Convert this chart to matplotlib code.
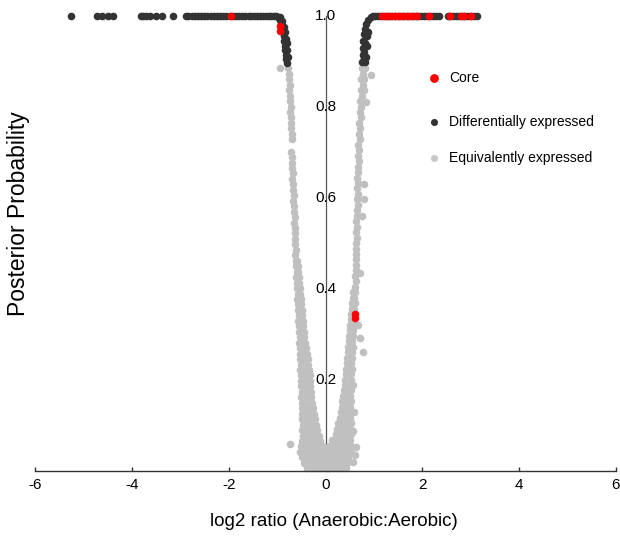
import matplotlib
matplotlib.use("Agg")
import matplotlib.pyplot as plt
import numpy as np

plt.rcParams['font.family'] = ['Liberation Sans', 'DejaVu Sans']

# equivalently expressed genes, left arm of the V (x, posterior)
equiv_left = [
    (-0.77, 0.885), (-0.93, 0.885), (-0.76, 0.873), (-0.75, 0.861), (-0.74, 0.849),
    (-0.75, 0.837), (-0.73, 0.825), (-0.74, 0.813), (-0.72, 0.801), (-0.73, 0.789),
    (-0.71, 0.777), (-0.72, 0.765), (-0.71, 0.753), (-0.70, 0.741), (-0.69, 0.729),
    (-0.72, 0.702), (-0.70, 0.690), (-0.69, 0.678), (-0.70, 0.666), (-0.68, 0.654),
    (-0.69, 0.642), (-0.67, 0.630), (-0.68, 0.618), (-0.66, 0.606), (-0.67, 0.594),
    (-0.65, 0.582), (-0.66, 0.570), (-0.64, 0.558), (-0.65, 0.546), (-0.63, 0.534),
    (-0.64, 0.522), (-0.62, 0.510), (-0.63, 0.498), (-0.61, 0.486), (-0.62, 0.474),
    (-0.60, 0.462), (-0.58, 0.462), (-0.61, 0.450), (-0.57, 0.450), (-0.59, 0.438),
    (-0.56, 0.438), (-0.60, 0.426), (-0.55, 0.426), (-0.58, 0.414), (-0.54, 0.414),
    (-0.59, 0.402), (-0.53, 0.402), (-0.57, 0.390), (-0.52, 0.390), (-0.58, 0.378),
    (-0.51, 0.378), (-0.56, 0.366), (-0.50, 0.366), (-0.57, 0.354), (-0.49, 0.354),
    (-0.55, 0.342), (-0.48, 0.342), (-0.56, 0.330), (-0.47, 0.330), (-0.54, 0.318),
    (-0.46, 0.318), (-0.55, 0.306), (-0.45, 0.306), (-0.53, 0.294), (-0.44, 0.294),
    (-0.54, 0.282), (-0.45, 0.282), (-0.42, 0.282), (-0.52, 0.270), (-0.44, 0.270),
    (-0.40, 0.270), (-0.53, 0.258), (-0.45, 0.258), (-0.39, 0.258), (-0.52, 0.246),
    (-0.44, 0.246), (-0.37, 0.246), (-0.51, 0.234), (-0.43, 0.234), (-0.36, 0.234),
    (-0.52, 0.222), (-0.42, 0.222), (-0.34, 0.222), (-0.50, 0.210), (-0.41, 0.210),
    (-0.33, 0.210), (-0.51, 0.198), (-0.42, 0.198), (-0.32, 0.198), (-0.50, 0.186),
    (-0.41, 0.186), (-0.31, 0.186), (-0.49, 0.174), (-0.40, 0.174), (-0.30, 0.174),
    (-0.50, 0.162), (-0.41, 0.162), (-0.29, 0.162), (-0.49, 0.150), (-0.40, 0.150),
    (-0.28, 0.150), (-0.48, 0.138), (-0.39, 0.138), (-0.30, 0.138), (-0.26, 0.138),
    (-0.49, 0.126), (-0.40, 0.126), (-0.31, 0.126), (-0.24, 0.126), (-0.48, 0.114),
    (-0.39, 0.114), (-0.30, 0.114), (-0.22, 0.114), (-0.47, 0.102), (-0.38, 0.102),
    (-0.29, 0.102), (-0.20, 0.102), (-0.48, 0.090), (-0.39, 0.090), (-0.30, 0.090),
    (-0.21, 0.090), (-0.17, 0.090), (-0.47, 0.078), (-0.38, 0.078), (-0.29, 0.078),
    (-0.20, 0.078), (-0.14, 0.078), (-0.48, 0.066), (-0.37, 0.066), (-0.28, 0.066),
    (-0.19, 0.066), (-0.11, 0.066), (-0.74, 0.060),
]

# right arm of the V
equiv_right = [
    (0.76, 0.885), (0.82, 0.885), (0.78, 0.873), (0.93, 0.870), (0.74, 0.861),
    (0.80, 0.861), (0.77, 0.849), (0.73, 0.837), (0.79, 0.837), (0.76, 0.825),
    (0.72, 0.813), (0.83, 0.810), (0.74, 0.801), (0.71, 0.789), (0.73, 0.777),
    (0.70, 0.765), (0.72, 0.753), (0.69, 0.741), (0.71, 0.729), (0.68, 0.717),
    (0.70, 0.705), (0.68, 0.693), (0.69, 0.681), (0.67, 0.669), (0.68, 0.657),
    (0.66, 0.645), (0.68, 0.633), (0.79, 0.630), (0.66, 0.621), (0.67, 0.609),
    (0.65, 0.597), (0.80, 0.597), (0.67, 0.585), (0.65, 0.573), (0.66, 0.561),
    (0.76, 0.561), (0.64, 0.549), (0.66, 0.537), (0.64, 0.525), (0.65, 0.513),
    (0.63, 0.501), (0.64, 0.489), (0.62, 0.477), (0.64, 0.465), (0.62, 0.453),
    (0.63, 0.441), (0.72, 0.435), (0.61, 0.429), (0.62, 0.417), (0.60, 0.405),
    (0.61, 0.393), (0.57, 0.393), (0.59, 0.381), (0.56, 0.381), (0.60, 0.369),
    (0.55, 0.369), (0.58, 0.357), (0.54, 0.357), (0.59, 0.345), (0.53, 0.345),
    (0.57, 0.333), (0.52, 0.333), (0.58, 0.321), (0.51, 0.321), (0.68, 0.321),
    (0.56, 0.309), (0.50, 0.309), (0.57, 0.297), (0.49, 0.297), (0.72, 0.292),
    (0.55, 0.285), (0.48, 0.285), (0.56, 0.273), (0.47, 0.273), (0.54, 0.261),
    (0.46, 0.261), (0.78, 0.261), (0.55, 0.249), (0.45, 0.249), (0.53, 0.237),
    (0.44, 0.237), (0.54, 0.225), (0.43, 0.225), (0.52, 0.213), (0.42, 0.213),
    (0.53, 0.201), (0.41, 0.201), (0.51, 0.189), (0.40, 0.189), (0.57, 0.189),
    (0.52, 0.177), (0.44, 0.177), (0.38, 0.177), (0.51, 0.165), (0.43, 0.165),
    (0.37, 0.165), (0.52, 0.153), (0.44, 0.153), (0.35, 0.153), (0.51, 0.141),
    (0.43, 0.141), (0.34, 0.141), (0.52, 0.129), (0.42, 0.129), (0.32, 0.129),
    (0.58, 0.129), (0.51, 0.117), (0.43, 0.117), (0.34, 0.117), (0.29, 0.117),
    (0.52, 0.105), (0.42, 0.105), (0.33, 0.105), (0.26, 0.105), (0.51, 0.093),
    (0.43, 0.093), (0.33, 0.093), (0.24, 0.093), (0.57, 0.088), (0.52, 0.081),
    (0.42, 0.081), (0.32, 0.081), (0.21, 0.081), (0.51, 0.069), (0.41, 0.069),
    (0.31, 0.069), (0.21, 0.069), (0.13, 0.069), (0.64, 0.053),
]

# dense blob at the bottom of the V
equiv_base = [
    (-0.50, 0.054), (-0.41, 0.054), (-0.32, 0.054), (-0.23, 0.054), (-0.14, 0.054),
    (-0.07, 0.054), (0.08, 0.054), (0.16, 0.054), (0.25, 0.054), (0.34, 0.054),
    (0.43, 0.054), (0.52, 0.054), (-0.52, 0.042), (-0.43, 0.042), (-0.34, 0.042),
    (-0.25, 0.042), (-0.16, 0.042), (-0.08, 0.042), (0.00, 0.042), (0.08, 0.042),
    (0.17, 0.042), (0.26, 0.042), (0.35, 0.042), (0.44, 0.042), (0.53, 0.042),
    (-0.49, 0.030), (-0.40, 0.030), (-0.31, 0.030), (-0.22, 0.030), (-0.14, 0.030),
    (-0.05, 0.030), (0.04, 0.030), (0.12, 0.030), (0.21, 0.030), (0.30, 0.030),
    (0.39, 0.030), (0.47, 0.030), (0.60, 0.035), (-0.45, 0.018), (-0.36, 0.018),
    (-0.27, 0.018), (-0.18, 0.018), (-0.09, 0.018), (0.00, 0.018), (0.09, 0.018),
    (0.18, 0.018), (0.27, 0.018), (0.36, 0.018), (0.45, 0.018), (0.56, 0.020),
    (-0.38, 0.006), (-0.29, 0.006), (-0.20, 0.006), (-0.11, 0.006), (-0.02, 0.006),
    (0.07, 0.006), (0.16, 0.006), (0.25, 0.006), (0.34, 0.006), (0.42, 0.006),
]

# differentially expressed, posterior ~1
de_left_x = [-5.25, -4.71, -4.61, -4.50, -4.38, -3.82, -3.76, -3.70, -3.63, -3.51,
             -3.37, -3.14, -2.89, -2.83, -2.76, -2.70, -2.63, -2.57, -2.50, -2.44,
             -2.37, -2.31, -2.24, -2.18, -2.11, -2.05, -1.98, -1.92, -1.85, -1.79,
             -1.72, -1.66, -1.59, -1.53, -1.47, -1.41, -1.35, -1.29, -1.23, -1.17,
             -1.12, -1.07, -1.02]
de_right_x = [1.02, 1.08, 1.14, 1.20, 1.26, 1.32, 1.38, 1.44, 1.50, 1.56, 1.62,
              1.68, 1.74, 1.80, 1.86, 1.92, 1.98, 2.04, 2.10, 2.16, 2.22, 2.28,
              2.34, 2.52, 2.58, 2.64, 2.70, 2.76, 2.82, 2.88, 2.94, 3.00, 3.06, 3.13]
de_top_y = 1.0

# differentially expressed, the bends of the V
de_bend = [
    (-0.98, 0.997), (-0.94, 0.998), (-0.95, 0.992), (-0.89, 0.990), (-0.92, 0.985),
    (-0.90, 0.975), (-0.86, 0.975), (-0.88, 0.965), (-0.84, 0.965), (-0.86, 0.955),
    (-0.82, 0.950), (-0.85, 0.945), (-0.80, 0.940), (-0.84, 0.935), (-0.83, 0.925),
    (-0.79, 0.925), (-0.82, 0.915), (-0.78, 0.910), (-0.81, 0.905), (-0.80, 0.897),
    (0.76, 0.900), (0.81, 0.900), (0.79, 0.905), (0.765, 0.915), (0.84, 0.910),
    (0.80, 0.920), (0.77, 0.930), (0.86, 0.935), (0.82, 0.940), (0.78, 0.945),
    (0.85, 0.955), (0.79, 0.960), (0.88, 0.965), (0.81, 0.972), (0.84, 0.983),
    (0.88, 0.991), (0.93, 0.997), (0.98, 1.000),
]

# core genes
core_pts = [
    (-1.96, 1.0), (-0.95, 0.978), (-0.93, 0.968),
    (1.16, 1.0), (1.25, 1.0), (1.34, 1.0), (1.43, 1.0), (1.52, 1.0), (1.61, 1.0),
    (1.70, 1.0), (1.79, 1.0), (1.88, 1.0), (2.13, 1.0), (2.58, 1.0), (2.80, 1.0),
    (2.87, 1.0), (3.00, 1.0), (0.60, 0.345), (0.61, 0.337),
]

x_ticks = [-6, -4, -2, 0, 2, 4, 6]
y_ticks = [0.2, 0.4, 0.6, 0.8, 1.0]
legend_labels = ['Core', 'Differentially expressed', 'Equivalently expressed']

col_core = '#ff0000'
col_de = '#333333'
col_eq = '#c0c0c0'
dot = 30

fig = plt.figure(figsize=(6.2, 5.42), dpi=100)
ax = fig.add_axes([35 / 620, 71 / 542, 581 / 620, 455 / 542])

eq = np.array(equiv_left + equiv_right + equiv_base)
ax.scatter(eq[:, 0], eq[:, 1], s=dot, color=col_eq, linewidths=0, clip_on=False, zorder=2)

de_x = np.array(de_left_x + de_right_x + [p[0] for p in de_bend])
de_y = np.array([de_top_y] * (len(de_left_x) + len(de_right_x)) + [p[1] for p in de_bend])
ax.scatter(de_x, de_y, s=dot, color=col_de, linewidths=0, clip_on=False, zorder=3)

core = np.array(core_pts)
ax.scatter(core[:, 0], core[:, 1], s=dot, color=col_core, linewidths=0, clip_on=False, zorder=4)

ax.set_xlim(-6, 6)
ax.set_ylim(0, 1)
for s in ['top', 'right']:
    ax.spines[s].set_visible(False)
ax.spines['left'].set_position(('data', 0))
ax.spines['left'].set_color('#555555')
ax.spines['left'].set_linewidth(0.9)
ax.spines['bottom'].set_color('#333333')
ax.spines['bottom'].set_linewidth(1.0)
ax.spines['left'].set_zorder(1)

ax.set_xticks(x_ticks)
ax.set_xticklabels([str(t) for t in x_ticks], fontsize=11)
ax.tick_params(axis='x', direction='in', length=3, width=1, color='#333333', pad=5)
ax.set_yticks([])
for v in y_ticks:
    ax.text(0, v, f'{v:.1f}', ha='center', va='center', fontsize=11, zorder=5)

# legend
leg_y = [0.864, 0.767, 0.688]
leg_cols = [col_core, col_de, '#c8c8c8']
leg_sizes = [40, 26, 26]
for lab, c, sz, yy in zip(legend_labels, leg_cols, leg_sizes, leg_y):
    ax.scatter([0.687], [yy], s=sz, color=c, linewidths=0, transform=ax.transAxes, clip_on=False)
    ax.text(0.7126, yy, lab, transform=ax.transAxes, ha='left', va='center', fontsize=10)

fig.text(334 / 620, 1 - 521 / 542, 'log2 ratio (Anaerobic:Aerobic)', ha='center', va='center', fontsize=13.5)
fig.text(19 / 620, 1 - 214 / 542, 'Posterior Probability', ha='center', va='center',
         rotation=90, fontsize=16.5)

plt.savefig('out.png', dpi=100)
plt.close()
